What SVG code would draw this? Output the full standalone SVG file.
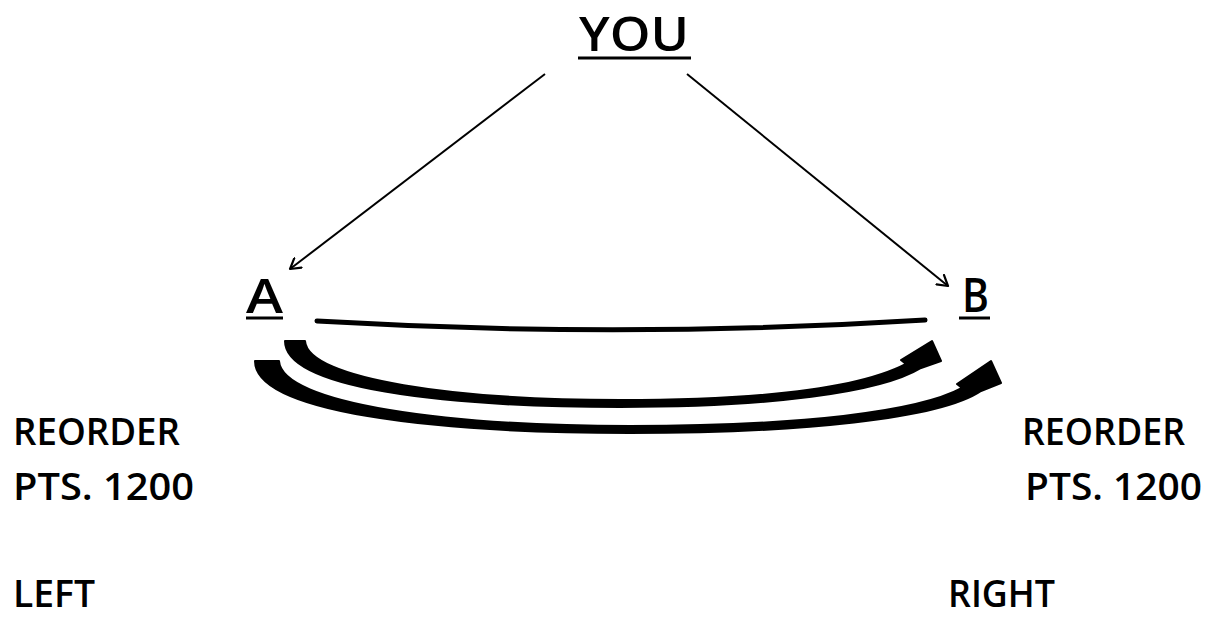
<svg xmlns="http://www.w3.org/2000/svg" width="1211" height="619" viewBox="0 0 1211 619">
  <style>
    .t { font-family: "Open Sans", "DejaVu Sans", sans-serif; font-weight: 600; fill: #000; }
    .lbl { font-size: 37px; }
    .hd { font-size: 47px; }
    .ul { stroke: #000; stroke-width: 3; }
    .conn { stroke: #000; stroke-width: 2; fill: none; }
    .curved { fill: #000; stroke: #000; stroke-width: 2; stroke-linejoin: round; }
  </style>
  <defs>
    <marker id="openArrow" markerWidth="14" markerHeight="14" refX="11" refY="7" orient="auto" markerUnits="userSpaceOnUse" viewBox="0 0 14 14">
      <path d="M1,1 L11,7 L1,13" fill="none" stroke="#000" stroke-width="2.2" stroke-linecap="round" stroke-linejoin="round"/>
    </marker>
  </defs>
  <rect width="1211" height="619" fill="#fff"/>

  <g id="node-you">
    <text class="t hd" x="579" y="51" textLength="110" lengthAdjust="spacingAndGlyphs">YOU</text>
    <line class="ul" x1="578" y1="58" x2="691" y2="58"/>
  </g>
  <g id="node-a">
    <text class="t hd" x="246" y="313" textLength="37" lengthAdjust="spacingAndGlyphs">A</text>
    <line class="ul" x1="246" y1="318" x2="283" y2="318"/>
  </g>
  <g id="node-b">
    <text class="t hd" x="962" y="312" textLength="27" lengthAdjust="spacingAndGlyphs">B</text>
    <line class="ul" x1="959" y1="318" x2="990" y2="318"/>
  </g>
  <g id="node-left">
    <text class="t lbl" x="13" y="445" textLength="167" lengthAdjust="spacingAndGlyphs">REORDER</text>
    <text class="t lbl" x="13" y="500" textLength="181" lengthAdjust="spacingAndGlyphs">PTS. 1200</text>
    <text class="t lbl" x="13" y="607" textLength="82" lengthAdjust="spacingAndGlyphs">LEFT</text>
  </g>
  <g id="node-right">
    <text class="t lbl" x="1022" y="445" textLength="163" lengthAdjust="spacingAndGlyphs">REORDER</text>
    <text class="t lbl" x="1025" y="500" textLength="177" lengthAdjust="spacingAndGlyphs">PTS. 1200</text>
    <text class="t lbl" x="948" y="607" textLength="107" lengthAdjust="spacingAndGlyphs">RIGHT</text>
  </g>

  <g id="connectors">
    <line class="conn" x1="545" y1="74" x2="290" y2="269" marker-end="url(#openArrow)"/>
    <line class="conn" x1="687" y1="74" x2="948" y2="286" marker-end="url(#openArrow)"/>
    <path d="M317,321 Q621,339 925,320" fill="none" stroke="#000" stroke-width="5" stroke-linecap="round"/>
    <path class="curved" d="M285,341 L305,341 C308,380 460,400 620,400 C760,400 860,388 906,364 L901,360 L932,341 L941,361 L921,368 C880,393 770,407 620,407 C440,407 285,388 285,341 Z"/>
    <path class="curved" d="M255,361 L279,361 C282,404 450,426 630,426 C800,426 918,412 962,388 L957,384 L991,361 L1001,383 L981,391 C940,419 800,433 630,433 C430,433 255,412 255,361 Z"/>
  </g>
</svg>
